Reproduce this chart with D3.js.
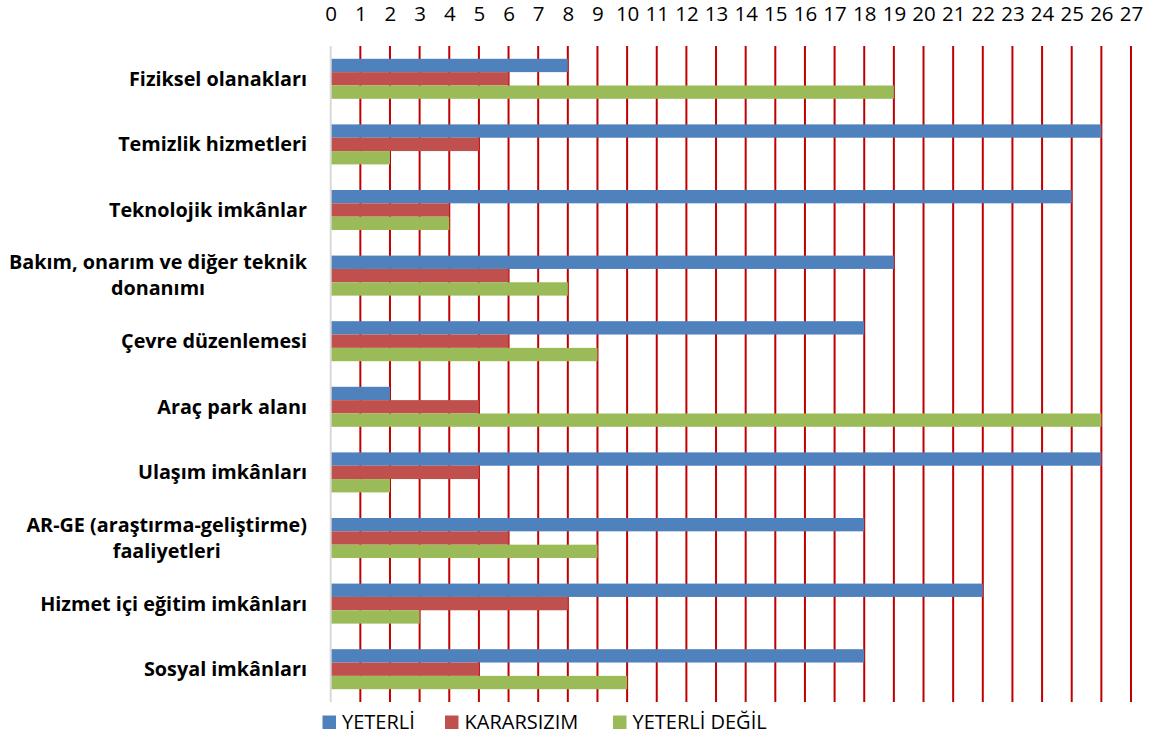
<!DOCTYPE html>
<html><head><meta charset="utf-8">
<script src="https://cdn.jsdelivr.net/npm/d3@7"></script>
<style>body{margin:0;background:#fff}svg{display:block}text{font-family:"Open Sans",Lato,sans-serif}</style>
</head><body>
<svg id="c" width="1157" height="740"></svg>
<script>
const categories = [
  ["Fiziksel olanakları"],
  ["Temizlik hizmetleri"],
  ["Teknolojik imkânlar"],
  ["Bakım, onarım ve diğer teknik","donanımı"],
  ["Çevre düzenlemesi"],
  ["Araç park alanı"],
  ["Ulaşım imkânları"],
  ["AR-GE (araştırma-geliştirme)","faaliyetleri"],
  ["Hizmet içi eğitim imkânları"],
  ["Sosyal imkânları"]
];
const seriesNames = ["YETERLİ","KARARSIZIM","YETERLİ DEĞİL"];
const yeterli      = [8, 26, 25, 19, 18, 2, 26, 18, 22, 18];
const kararsizim   = [6, 5, 4, 6, 6, 5, 5, 6, 8, 5];
const yeterliDegil = [19, 2, 4, 8, 9, 26, 2, 9, 3, 10];
const ticks = d3.range(0, 28);
const colors = ["#4F81BD","#C0504D","#9BBB59"];
const seriesValues = [yeterli, kararsizim, yeterliDegil];

const svg = d3.select("#c");
const x = d3.scaleLinear().domain([0,27]).range([330.7,1131]);
const idx = d3.range(categories.length);
const y0 = d3.scaleBand().domain(idx).range([46,702]).paddingInner(0.39).paddingOuter(0.195);
const y1 = d3.scaleBand().domain(d3.range(3)).range([0,y0.bandwidth()]);

// gridlines
svg.append("g").selectAll("line").data(ticks.slice(1)).join("line")
  .attr("x1",d=>x(d)).attr("x2",d=>x(d)).attr("y1",46).attr("y2",702)
  .attr("stroke","#C00000").attr("stroke-width",2);

// bars
const g = svg.append("g");
idx.forEach(i=>{
  seriesValues.forEach((vals,s)=>{
    g.append("rect")
      .attr("x",x(0)).attr("y",y0(i)+y1(s))
      .attr("width",x(vals[i])-x(0)).attr("height",y1.bandwidth())
      .attr("fill",colors[s]);
  });
});

// zero axis line
svg.append("line").attr("x1",x(0)).attr("x2",x(0)).attr("y1",46).attr("y2",702)
  .attr("stroke","#D9D9D9").attr("stroke-width",2);

// top tick labels
const axis = d3.axisTop(x).tickValues(ticks).tickSize(0).tickPadding(0);
const ag = svg.append("g").attr("transform","translate(0,21)").call(axis);
ag.select(".domain").remove();
ag.selectAll("text").attr("font-size",20.5).attr("fill","#000").style("font-family","'Open Sans',Lato,sans-serif");

// category labels
const lg = svg.append("g");
const labelSize = 19.8;
idx.forEach(i=>{
  const lines = categories[i];
  const cy = y0(i)+y0.bandwidth()/2;
  const lh = 26;
  if(lines.length===1){
    lg.append("text").attr("x",307).attr("y",cy+7).attr("text-anchor","end")
      .attr("font-size",labelSize).attr("font-weight","bold").text(lines[0]);
  } else {
    const t = lg.append("text").attr("font-size",labelSize).attr("font-weight","bold");
    lines.forEach((l,k)=>{
      t.append("tspan").attr("y",cy+6.5+(k-(lines.length-1)/2)*lh).text(l);
    });
    let maxW = 0;
    t.selectAll("tspan").each(function(){maxW=Math.max(maxW,this.getComputedTextLength());});
    t.attr("text-anchor","middle");
    t.selectAll("tspan").attr("x",307-maxW/2);
  }
});

// legend
const legX = [322.5, 445, 613];
const leg = svg.append("g");
seriesNames.forEach((n,s)=>{
  leg.append("rect").attr("x",legX[s]).attr("y",715.5).attr("width",13.5).attr("height",13.5).attr("fill",colors[s]);
  leg.append("text").attr("x",legX[s]+19.5).attr("y",729).attr("font-size",20).attr("fill","#000").text(n);
});
</script>
</body></html>
